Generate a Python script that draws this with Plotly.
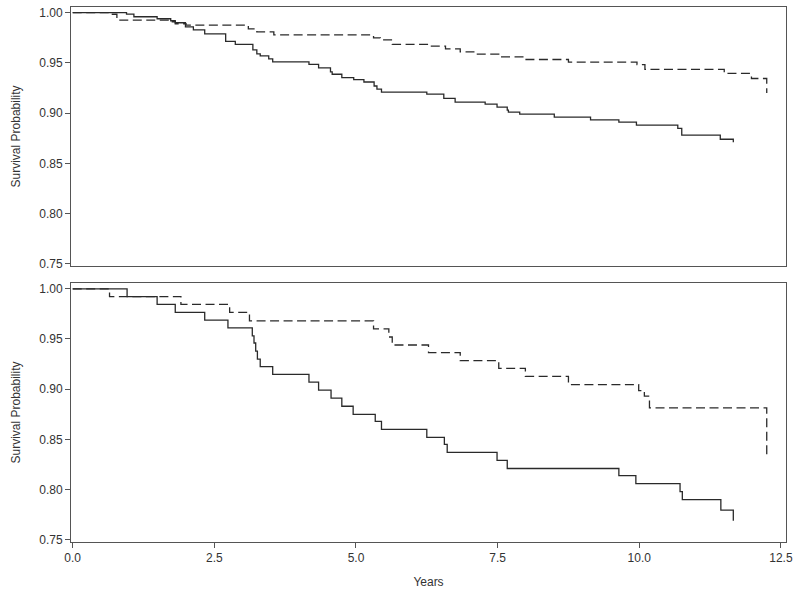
import plotly.graph_objects as go

# ---- Data ----
top_solid_t = [0, 0.95, 1.08, 1.49, 1.73, 1.81, 1.99, 2.13, 2.33, 2.70, 2.87, 3.18, 3.25, 3.31, 3.46, 3.53,
               4.17, 4.34, 4.55, 4.58, 4.75, 4.96, 5.14, 5.32, 5.37, 5.45, 6.25, 6.55, 6.75, 7.28, 7.49,
               7.67, 7.69, 7.89, 8.50, 9.14, 9.64, 9.95, 10.68, 10.75, 11.43, 11.66]
top_solid_s = [1.0, 0.9986, 0.996, 0.994, 0.992, 0.990, 0.986, 0.983, 0.979, 0.9715, 0.9685, 0.963, 0.959,
               0.957, 0.954, 0.951, 0.9486, 0.945, 0.941, 0.9387, 0.9354, 0.9334, 0.931, 0.927, 0.924, 0.921,
               0.919, 0.9146, 0.911, 0.909, 0.906, 0.903, 0.901, 0.899, 0.896, 0.8933, 0.891, 0.888, 0.8848,
               0.878, 0.874, 0.871]

top_dash_t = [0, 0.64, 0.78, 1.73, 1.81, 2.00, 3.10, 3.25, 3.55, 5.31, 5.43, 5.64, 6.28, 6.58, 6.84, 7.08,
              7.52, 7.96, 8.75, 9.96, 10.10, 11.50, 11.98, 12.25]
top_dash_s = [1.0, 0.9985, 0.9926, 0.991, 0.989, 0.9877, 0.984, 0.981, 0.978, 0.975, 0.973, 0.9685, 0.9667,
              0.964, 0.961, 0.9587, 0.956, 0.9534, 0.9507, 0.9484, 0.9435, 0.9395, 0.9345, 0.920]

bot_solid_t = [0, 0.96, 1.49, 1.81, 2.33, 2.74, 3.17, 3.20, 3.23, 3.26, 3.31, 3.53, 4.17, 4.34, 4.56, 4.75,
               4.95, 5.34, 5.45, 6.25, 6.56, 6.61, 7.49, 7.67, 9.64, 9.94, 10.72, 10.76, 11.44, 11.66]
bot_solid_s = [1.0, 0.9922, 0.9844, 0.9766, 0.9688, 0.961, 0.953, 0.946, 0.938, 0.930, 0.9225, 0.9147,
               0.907, 0.899, 0.891, 0.883, 0.875, 0.868, 0.860, 0.852, 0.845, 0.837, 0.829, 0.821, 0.814,
               0.806, 0.798, 0.790, 0.7795, 0.769]

bot_dash_t = [0, 0.65, 1.91, 2.77, 3.12, 5.31, 5.58, 5.64, 6.28, 6.84, 7.52, 7.99, 8.75, 9.99, 10.09,
              10.18, 12.25]
bot_dash_s = [1.0, 0.9922, 0.9844, 0.9766, 0.968, 0.960, 0.952, 0.944, 0.9365, 0.9285, 0.9208, 0.9128,
              0.9046, 0.8986, 0.893, 0.8813, 0.835]

y_ticks = [0.75, 0.80, 0.85, 0.90, 0.95, 1.00]
x_ticks = [0.0, 2.5, 5.0, 7.5, 10.0, 12.5]

LINE = "#2a2a2a"
AX = "#555555"
FONT = "Liberation Sans, Arial, sans-serif"

fig = go.Figure()

def add(t, s, dash, xa, ya):
    fig.add_trace(go.Scatter(
        x=t, y=s, mode="lines", line=dict(shape="hv", color=LINE, width=1.3, dash=dash),
        xaxis=xa, yaxis=ya, showlegend=False, hoverinfo="skip"))

add(top_solid_t, top_solid_s, "solid", "x", "y")
add(top_dash_t, top_dash_s, "9px,4.5px", "x", "y")
add(bot_solid_t, bot_solid_s, "solid", "x2", "y2")
add(bot_dash_t, bot_dash_s, "9px,4.5px", "x2", "y2")

xcommon = dict(range=[-0.03, 12.59], showgrid=False, zeroline=False, showline=True, linecolor=AX,
               linewidth=1, mirror=True, automargin=False)
ycommon = dict(range=[0.7478, 1.0057], showgrid=False, zeroline=False, showline=True, linecolor=AX,
               linewidth=1, mirror=True, tickvals=y_ticks, tickformat=".2f", ticks="outside",
               ticklen=5, tickcolor=AX, tickfont=dict(size=12, color="#333"), automargin=False,
               title=dict(text="Survival Probability", font=dict(size=12, color="#333"), standoff=16))

fig.update_layout(
    width=800, height=595,
    margin=dict(l=71, r=14, t=7, b=53),
    paper_bgcolor="white", plot_bgcolor="white",
    font=dict(family=FONT, color="#333"),
    xaxis=dict(**xcommon, domain=[0, 1], anchor="y", matches="x2", showticklabels=False, ticks=""),
    yaxis=dict(**ycommon, domain=[0.516, 1.0], anchor="x"),
    xaxis2=dict(**xcommon, domain=[0, 1], anchor="y2", tickvals=x_ticks, tickformat=".1f",
                ticks="outside", ticklen=5, tickcolor=AX, tickfont=dict(size=12, color="#333"),
                title=dict(text="Years", font=dict(size=12, color="#333"), standoff=13)),
    yaxis2=dict(**ycommon, domain=[0.0, 0.484], anchor="x2"),
)

fig.write_html("out.html", config={"displayModeBar": False},
               post_script="document.body.style.margin='0px';")
